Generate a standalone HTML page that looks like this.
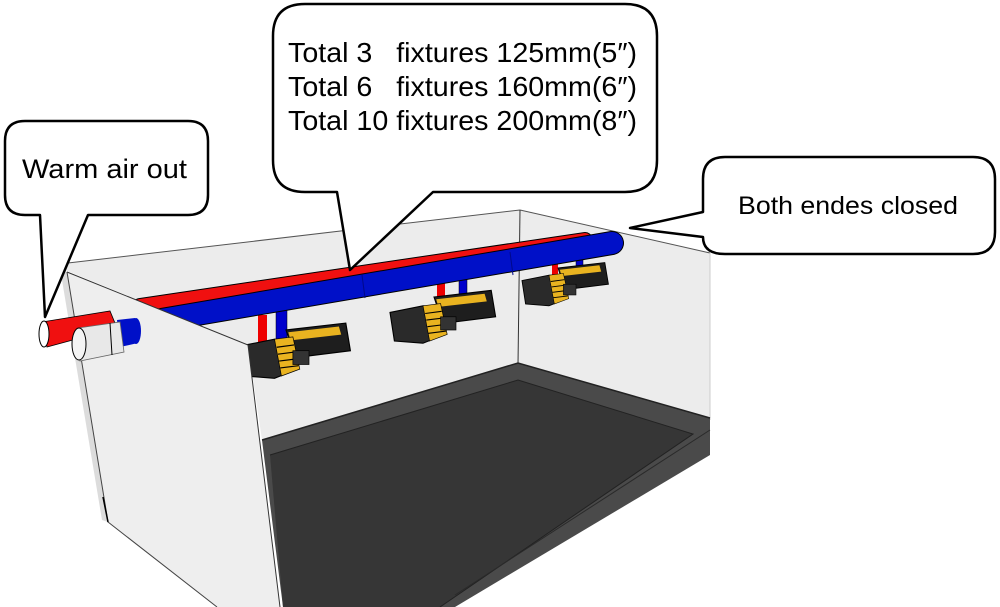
<!DOCTYPE html>
<html><head><meta charset="utf-8"><style>
html,body{margin:0;padding:0;background:#fff;width:1000px;height:607px;overflow:hidden}
svg{display:block}
text{font-family:"Liberation Sans",sans-serif;fill:#000}
</style></head><body>
<svg width="1000" height="607" viewBox="0 0 1000 607" xmlns="http://www.w3.org/2000/svg">
<defs>
<g id="fx">
  <polygon points="40,0 92,-6 96,18 48,24" fill="#1e1e1e" stroke="#000" stroke-width="1"/>
  <polygon points="42,2 86,-3 88,4 44,9" fill="#e9b320"/>
  <polygon points="0,14 30,8 45,10 50,34 30,42 4,40" fill="#2a2a2a" stroke="#000" stroke-width="1"/>
  <polygon points="30,8 46,6 52,34 36,40" fill="#e9b320" stroke="#000" stroke-width="0.6"/>
  <line x1="32" y1="15" x2="47" y2="13" stroke="#000" stroke-width="1"/>
  <line x1="33" y1="21" x2="49" y2="19" stroke="#000" stroke-width="1"/>
  <line x1="34" y1="27" x2="50" y2="25" stroke="#000" stroke-width="1"/>
  <line x1="35" y1="33" x2="51" y2="31" stroke="#000" stroke-width="1"/>
  <rect x="46" y="18" width="14" height="12" fill="#333" stroke="#000" stroke-width="0.6"/>
</g>
</defs>

<polygon points="60,268 68,263 520,210 710,253 710,420 518,365 262,440 248,345" fill="#ececec"/>
<line x1="68" y1="263" x2="520" y2="210" stroke="#555" stroke-width="1"/>
<line x1="520" y1="210" x2="710" y2="253" stroke="#555" stroke-width="1"/>
<line x1="520" y1="210" x2="518" y2="365" stroke="#333" stroke-width="1"/>
<line x1="710" y1="253" x2="710" y2="420" stroke="#ccc" stroke-width="1"/>

<polygon points="262,440 518,363 710,418 710,455 455,607 283,607" fill="#4a4a4a"/>
<polygon points="270,455 518,380 693,434 440,607 283,607" fill="#363636"/>
<polyline points="262,440 518,363 710,418" fill="none" stroke="#222" stroke-width="1.5"/>
<polyline points="270,455 518,380 693,434 440,607" fill="none" stroke="#222" stroke-width="1"/>
<line x1="710" y1="430" x2="455" y2="595" stroke="#2a2a2a" stroke-width="1"/>

<rect x="258" y="315" width="9" height="30" fill="#e00"/>
<rect x="276" y="310" width="11" height="45" fill="#00c" stroke="#000" stroke-width="0.5"/>
<rect x="437" y="281" width="8" height="20" fill="#e00"/>
<rect x="459" y="278" width="8" height="32" fill="#00c" stroke="#000" stroke-width="0.5"/>
<rect x="552" y="260" width="6" height="17" fill="#e00"/>
<rect x="576" y="254" width="7" height="29" fill="#00c" stroke="#000" stroke-width="0.5"/>

<use href="#fx" transform="translate(390,297) scale(1.1)"/>
<use href="#fx" transform="translate(522,268) scale(0.9)"/>
<use href="#fx" transform="translate(240,330) scale(1.15)"/>

<line x1="140" y1="306" x2="585" y2="240" stroke="#000" stroke-width="16" stroke-linecap="round"/>
<line x1="140" y1="306" x2="585" y2="240" stroke="#f01010" stroke-width="14" stroke-linecap="round"/>
<line x1="150" y1="322" x2="612" y2="243" stroke="#000" stroke-width="24" stroke-linecap="round"/>
<line x1="150" y1="322" x2="612" y2="243" stroke="#0010c8" stroke-width="22" stroke-linecap="round"/>
<line x1="362" y1="275" x2="365" y2="298" stroke="#00088a" stroke-width="1"/>
<line x1="510" y1="252" x2="513" y2="275" stroke="#00088a" stroke-width="1"/>

<polygon points="67,272 248,345 280,607 217,607 108,522" fill="#eeeeee"/>
<polygon points="60,268 67,272 108,522 102,520" fill="#dcdcdc"/>
<polyline points="67,272 248,345 280,607" fill="none" stroke="#333" stroke-width="1"/>
<polyline points="67,272 108,522 217,607" fill="none" stroke="#444" stroke-width="1"/>
<line x1="103" y1="497" x2="108" y2="522" stroke="#000" stroke-width="1.5"/>

<polygon points="42,322 110,311 117,328 47,347" fill="#f01010" stroke="#000" stroke-width="0.8"/>
<ellipse cx="44" cy="334" rx="5" ry="13" fill="#fff" stroke="#000" stroke-width="1"/>
<polygon points="117,320 135,318 138,343 120,347" fill="#0010c8"/>
<ellipse cx="136" cy="331" rx="5" ry="13" fill="#0010c8"/>
<polygon points="78,328 120,322 124,352 80,361" fill="#e8e8e8" stroke="#666" stroke-width="0.8"/>
<ellipse cx="79" cy="344" rx="7" ry="16" fill="#f4f4f4" stroke="#000" stroke-width="1"/>
<line x1="110" y1="323" x2="112" y2="355" stroke="#000" stroke-width="1"/>

<path d="M25,121 H188 Q208,121 208,141 V195 Q208,215 188,215 H88 L45,317 L40,215 H25 Q5,215 5,195 V141 Q5,121 25,121 Z" fill="#fff" stroke="#000" stroke-width="2.5" stroke-linejoin="round"/>
<text x="22" y="178" font-size="27" textLength="165" lengthAdjust="spacingAndGlyphs">Warm air out</text>

<path d="M305,4 H625 Q657,4 657,36 V160 Q657,192 625,192 H433 L350,270 L337,192 H305 Q273,192 273,160 V36 Q273,4 305,4 Z" fill="#fff" stroke="#000" stroke-width="2.5" stroke-linejoin="round"/>
<text x="288" y="62" font-size="28" textLength="349" lengthAdjust="spacingAndGlyphs">Total 3 &#160;&#160;fixtures 125mm(5″)</text>
<text x="288" y="96" font-size="28" textLength="349" lengthAdjust="spacingAndGlyphs">Total 6 &#160;&#160;fixtures 160mm(6″)</text>
<text x="288" y="130" font-size="28" textLength="349" lengthAdjust="spacingAndGlyphs">Total 10 fixtures 200mm(8″)</text>

<path d="M725,157 H973 Q995,157 995,179 V232 Q995,254 973,254 H725 Q703,254 703,237 L630,228 L703,212 V179 Q703,157 725,157 Z" fill="#fff" stroke="#000" stroke-width="2.5" stroke-linejoin="round"/>
<text x="738" y="214" font-size="25" textLength="220" lengthAdjust="spacingAndGlyphs">Both endes closed</text>
</svg>
</body></html>
